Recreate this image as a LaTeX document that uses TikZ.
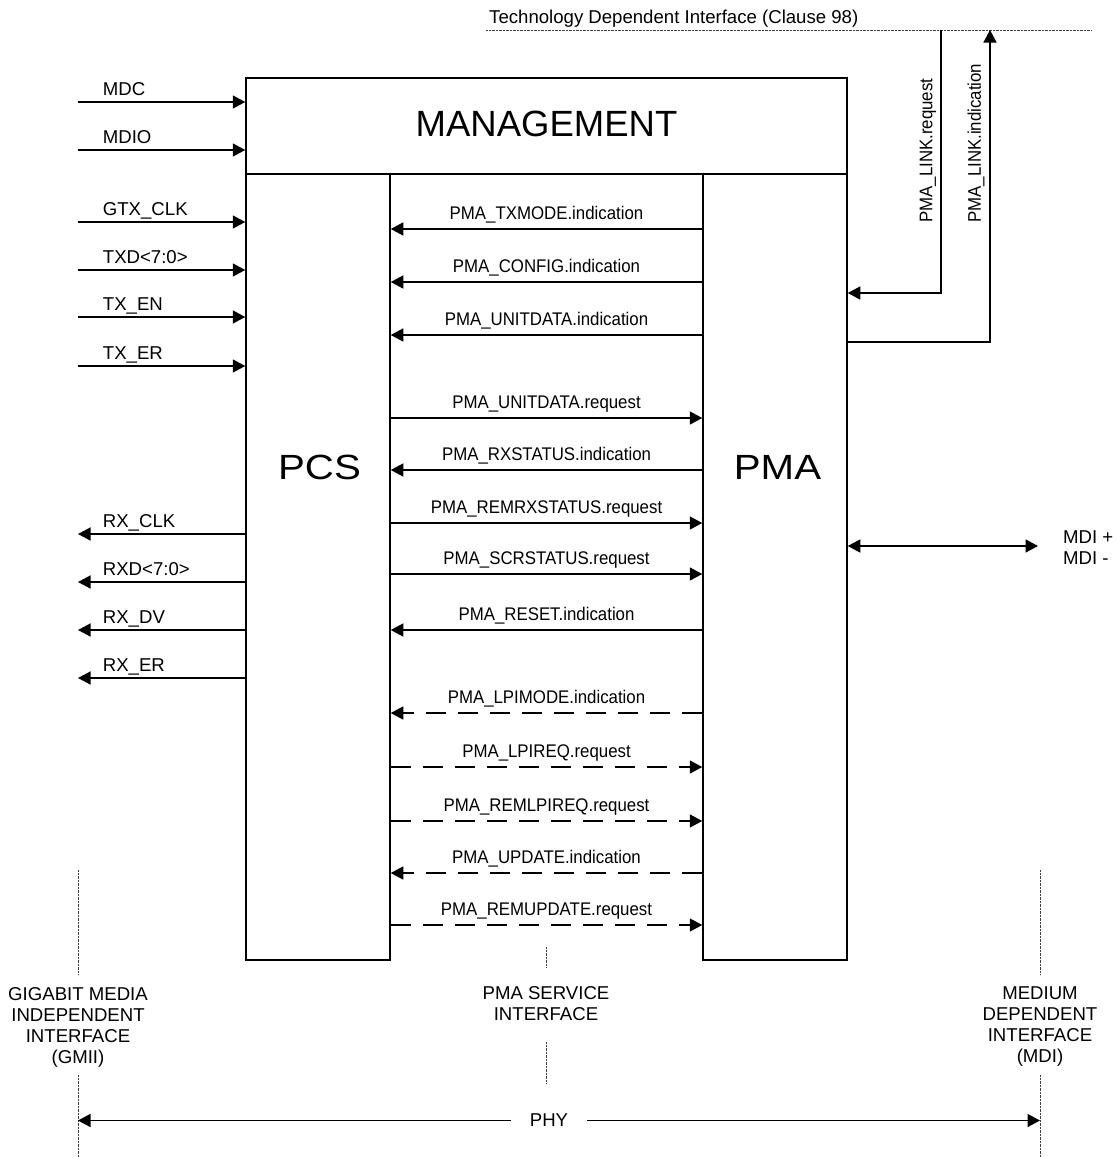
\documentclass[tikz,border=0pt]{standalone}
\usepackage{fontspec}
\setmainfont{Liberation Sans}
\newfontfamily\condfont[FakeStretch=0.92]{Liberation Sans}
\newfontfamily\widefont[FakeStretch=1.15]{Liberation Sans}
\usetikzlibrary{arrows.meta}
\begin{document}
\begin{tikzpicture}[x=1pt,y=-1pt,
  box/.style={draw, line width=1.5pt, inner sep=0pt},
  sig/.style={line width=1.5pt, -{Triangle[length=12.5pt,width=13pt]}},
  dsig/.style={sig, dash pattern=on 20pt off 12pt},
  bsig/.style={line width=1.5pt, {Triangle[length=12.5pt,width=13pt]}-{Triangle[length=12.5pt,width=13pt]}},
  iface/.style={line width=0.7pt, dash pattern=on 0.7pt off 0.7pt, black!75},
  lbl/.style={font=\fontsize{18.6}{21}\selectfont, inner sep=0pt},
  clbl/.style={font=\condfont\fontsize{18.3}{21}\selectfont, inner sep=0pt},
  big/.style={font=\widefont\fontsize{35}{40}\selectfont, inner sep=0pt},
]
\useasboundingbox (0,0) rectangle (1117,1157);
\fill[white] (0,0) rectangle (1117,1157);

% boxes
\node[box, minimum width=601pt, minimum height=96pt] (mgmt) at (546.5,126) {};
\node[box, minimum width=144pt, minimum height=786pt] (pcs) at (318,567) {};
\node[box, minimum width=144pt, minimum height=786pt] (pma) at (775,567) {};
\node[font=\fontsize{36.5}{40}\selectfont, inner sep=0pt] (mgmtlbl) at (546.5,124) {MANAGEMENT};
\node[big] (pcslbl) at (319.5,467) {PCS};
\node[big] (pmalbl) at (777.5,467) {PMA};

% GMII inputs to management
\foreach \n/\t/\y in {mdc/MDC/102, mdio/MDIO/150}{
  \coordinate (in-\n) at (78,\y);
  \draw[sig] (in-\n) -- (mgmt.west |- in-\n);
  \node[lbl, anchor=base west] (l-\n) at (102.7,\y-7) {\t};
}
% GMII inputs to PCS
\foreach \n/\t/\y in {gtx/GTX\_CLK/222, txd/TXD<7:0>/270, txen/TX\_EN/317, txer/TX\_ER/366}{
  \coordinate (in-\n) at (78,\y);
  \draw[sig] (in-\n) -- (pcs.west |- in-\n);
  \node[lbl, anchor=base west] (l-\n) at (102.7,\y-7) {\t};
}
% GMII outputs from PCS
\foreach \n/\t/\y in {rxclk/RX\_CLK/534, rxd/RXD<7:0>/582, rxdv/RX\_DV/630, rxer/RX\_ER/678}{
  \coordinate (out-\n) at (78,\y);
  \draw[sig] (pcs.west |- out-\n) -- (out-\n);
  \node[lbl, anchor=base west] (l-\n) at (102.7,\y-7) {\t};
}

% PMA service interface: PMA -> PCS
\foreach \n/\t/\y in {txmode/PMA\_TXMODE.indication/229, config/PMA\_CONFIG.indication/282,
  unind/PMA\_UNITDATA.indication/335, rxstat/PMA\_RXSTATUS.indication/470,
  reset/PMA\_RESET.indication/630}{
  \coordinate (r-\n) at (0,\y);
  \draw[sig] (pma.west |- r-\n) -- node[clbl, anchor=base, yshift=9.5pt] (l-\n) {\t} (pcs.east |- r-\n);
}
\foreach \n/\t/\y in {lpimode/PMA\_LPIMODE.indication/713, update/PMA\_UPDATE.indication/873}{
  \coordinate (r-\n) at (0,\y);
  \draw[dsig] (pma.west |- r-\n) -- node[clbl, anchor=base, yshift=9.5pt] (l-\n) {\t} (pcs.east |- r-\n);
}
% PCS -> PMA
\foreach \n/\t/\y in {unreq/PMA\_UNITDATA.request/418, remrx/PMA\_REMRXSTATUS.request/523,
  scr/PMA\_SCRSTATUS.request/574}{
  \coordinate (r-\n) at (0,\y);
  \draw[sig] (pcs.east |- r-\n) -- node[clbl, anchor=base, yshift=9.5pt] (l-\n) {\t} (pma.west |- r-\n);
}
\foreach \n/\t/\y in {lpireq/PMA\_LPIREQ.request/767, remlpi/PMA\_REMLPIREQ.request/821,
  remupd/PMA\_REMUPDATE.request/925}{
  \coordinate (r-\n) at (0,\y);
  \draw[dsig] (pcs.east |- r-\n) -- node[clbl, anchor=base, yshift=9.5pt] (l-\n) {\t} (pma.west |- r-\n);
}

% Technology dependent interface
\coordinate (tdiL) at (486,30);
\coordinate (tdiR) at (1092,30);
\draw[iface] (tdiL) -- (tdiR);
\node[lbl, anchor=base west] (tdilbl) at (489,23) {Technology Dependent Interface (Clause 98)};
\coordinate (lr-top) at (941,30);
\coordinate (lr-corner) at (941,293);
\draw[sig] (lr-top) -- (lr-corner) -- (pma.east |- lr-corner);
\coordinate (li-corner) at (990,342);
\coordinate (li-top) at (990,30);
\draw[sig] (pma.east |- li-corner) -- (li-corner) -- (li-top);
\node[clbl, rotate=90, anchor=west] (lreqlbl) at (928,223) {PMA\_LINK.request};
\node[clbl, rotate=90, anchor=west] (lindlbl) at (976,223) {PMA\_LINK.indication};

% MDI
\coordinate (mdiend) at (1038,546);
\draw[bsig] (pma.east |- mdiend) -- (mdiend);
\node[lbl, anchor=base west] (mdip) at (1063,543) {MDI +};
\node[lbl, anchor=base west] (mdim) at (1063,564) {MDI -};

% interface markers
\draw[iface] (78,870) -- (78,975);
\draw[iface] (78,1075) -- (78,1157);
\draw[iface] (1040,870) -- (1040,975);
\draw[iface] (1040,1075) -- (1040,1157);
\draw[iface] (546,947) -- (546,967);
\draw[iface] (546,1042) -- (546,1083);

\node[lbl, align=center] (gmii) at (78,1027) {GIGABIT MEDIA\\INDEPENDENT\\INTERFACE\\(GMII)};
\node[lbl, align=center] (psi) at (546,1004) {PMA SERVICE\\INTERFACE};
\node[lbl, align=center] (mdi) at (1040,1027) {MEDIUM\\DEPENDENT\\INTERFACE\\(MDI)};

% PHY
\node[lbl, inner xsep=19pt] (phy) at (549,1120.5) {PHY};
\coordinate (phyL) at (78,1120.5);
\coordinate (phyR) at (1040,1120.5);
\draw[sig] (phy.west) -- (phyL);
\draw[sig] (phy.east) -- (phyR);
\end{tikzpicture}
\end{document}
